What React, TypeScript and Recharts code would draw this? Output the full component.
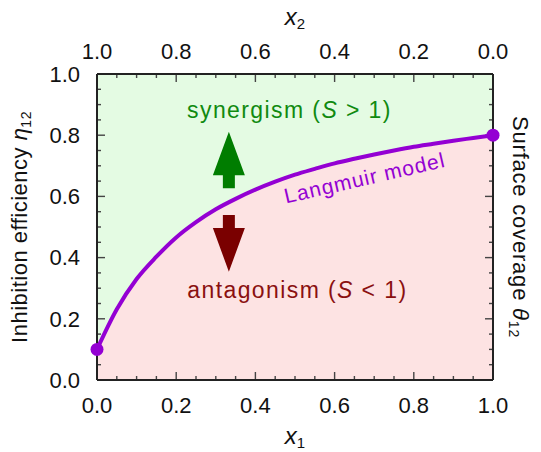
import { Area, ComposedChart, CartesianGrid, Label, Line, ReferenceDot, ReferenceLine, XAxis, YAxis } from "recharts";

// mole fraction of inhibitor 1 and the Langmuir-model efficiency
const x1Values = [0, 0.05, 0.1, 0.15, 0.2, 0.25, 0.3, 0.35, 0.4, 0.45, 0.5, 0.55, 0.6, 0.65, 0.7, 0.75, 0.8, 0.85, 0.9, 0.95, 1.0];
const etaValues = [0.1, 0.231, 0.33, 0.403, 0.466, 0.516, 0.558, 0.592, 0.622, 0.648, 0.671, 0.69, 0.708, 0.723, 0.737, 0.75, 0.762, 0.772, 0.782, 0.791, 0.8];

const tickValues = [0, 0.05, 0.1, 0.15, 0.2, 0.25, 0.3, 0.35, 0.4, 0.45, 0.5, 0.55, 0.6, 0.65, 0.7, 0.75, 0.8, 0.85, 0.9, 0.95, 1.0];
const majorTicks = [0, 0.2, 0.4, 0.6, 0.8, 1.0];

// annotation anchors (data coords)
const arrowX = 0.333;
const upArrow = [0.627, 0.811];
const downArrow = [0.539, 0.354];
const synergismPos = [0.486, 0.856];
const antagonismPos = [0.506, 0.268];
const modelLabelPos = [0.68, 0.637];
// two interior reference points used to find the frame for the tick marks
const frameRef = [0.25, 0.75];

const data = x1Values.map((x, i) => ({ x1: x, eta: etaValues[i] }));

const FONT = "'Liberation Sans', Arial, Helvetica, sans-serif";
const PURPLE = "#9400d3";
const AXIS = "#222";
const TICK = "#444";
const MAJOR = 8;
const MINOR = 4;
const TW = 1.4;
const isMajor = (v: number) => majorTicks.some((m) => Math.abs(m - v) < 1e-6);

const BottomTick = (p: any) => {
  const v = p.payload.value;
  if (!isMajor(v)) return <g />;
  return (
    <text x={p.x} y={p.y} dy="0.71em" textAnchor="middle" fontSize={22} fill="#111" fontFamily={FONT}>
      {v.toFixed(1)}
    </text>
  );
};

const TopTick = (p: any) => {
  const v = p.payload.value;
  if (!isMajor(v)) return <g />;
  return (
    <text x={p.x} y={p.y} textAnchor="middle" fontSize={22} fill="#111" fontFamily={FONT}>
      {v.toFixed(1)}
    </text>
  );
};

const LeftTick = (p: any) => {
  const v = p.payload.value;
  if (!isMajor(v)) return <g />;
  return (
    <text x={p.x} y={p.y} dy="0.355em" textAnchor="end" fontSize={22} fill="#111" fontFamily={FONT}>
      {v.toFixed(1)}
    </text>
  );
};

// inward frame ticks, drawn as thin filled rects above the fills.
// The segment joins two interior points; the frame edges follow from the linear scale.
const frameTicks = (p: any) => {
  const span = frameRef[1] - frameRef[0];
  const ux = (p.x2 - p.x1) / span;
  const uy = (p.y1 - p.y2) / span;
  const left = p.x1 - frameRef[0] * ux;
  const right = left + ux;
  const bottom = p.y1 + frameRef[0] * uy;
  const top = bottom - uy;
  const rects: any[] = [];
  tickValues.forEach((v, i) => {
    const len = isMajor(v) ? MAJOR : MINOR;
    const x = left + ux * v;
    const y = bottom - uy * v;
    rects.push(<rect key={`b${i}`} x={x - TW / 2} y={bottom - len} width={TW} height={len} fill={TICK} />);
    rects.push(<rect key={`t${i}`} x={x - TW / 2} y={top} width={TW} height={len} fill={TICK} />);
    rects.push(<rect key={`l${i}`} x={left} y={y - TW / 2} width={len} height={TW} fill={TICK} />);
    rects.push(<rect key={`r${i}`} x={right - len} y={y - TW / 2} width={len} height={TW} fill={TICK} />);
  });
  return <g>{rects}</g>;
};

const arrowShape = (color: string) => (p: any) => {
  const x = p.x1;
  const yb = p.y1;
  const yt = p.y2;
  const dir = Math.sign(yt - yb);
  const headLen = Math.abs(yt - yb) * 0.77;
  const yh = yt - dir * headLen;
  const pts = [
    [x - 6, yb],
    [x - 6, yh],
    [x - 16, yh],
    [x, yt],
    [x + 16, yh],
    [x + 6, yh],
    [x + 6, yb],
  ]
    .map((q) => q.join(","))
    .join(" ");
  return <polygon points={pts} fill={color} />;
};

const EndDot = (p: any) => {
  if (p.index !== 0 && p.index !== data.length - 1) return <g key={p.index} />;
  return <circle key={p.index} cx={p.cx} cy={p.cy} r={6.5} fill={PURPLE} />;
};

export default function App() {
  return (
    <div style={{ position: "absolute", left: 0, top: 0, width: 541, height: 452, background: "#fff" }}>
      <ComposedChart width={541} height={452} data={data} margin={{ top: 0, right: 0, bottom: 0, left: 0 }}>
        <CartesianGrid horizontal={false} vertical={false} fill="#e4fbe3" />
        <XAxis
          dataKey="x1"
          type="number"
          domain={[0, 1]}
          ticks={tickValues}
          interval={0}
          height={72}
          tickLine={false}
          tickSize={0}
          tickMargin={17}
          axisLine={{ stroke: AXIS, strokeWidth: 2 }}
          tick={BottomTick}
        >
          <Label
            content={(p: any) => {
              const vb = p.viewBox;
              return (
                <text x={vb.x + vb.width / 2} y={vb.y + 64} textAnchor="middle" fontSize={24} fill="#111" fontFamily={FONT}>
                  <tspan fontStyle="italic">x</tspan>
                  <tspan fontSize={15} dy={4}>1</tspan>
                </text>
              );
            }}
          />
        </XAxis>
        <XAxis
          xAxisId="top"
          dataKey="x1"
          orientation="top"
          type="number"
          domain={[0, 1]}
          reversed
          ticks={tickValues}
          interval={0}
          height={74}
          tickLine={false}
          tickSize={0}
          tickMargin={15}
          axisLine={{ stroke: AXIS, strokeWidth: 2 }}
          tick={TopTick}
        >
          <Label
            content={(p: any) => {
              const vb = p.viewBox;
              return (
                <text x={vb.x + vb.width / 2} y={vb.y + 25} textAnchor="middle" fontSize={24} fill="#111" fontFamily={FONT}>
                  <tspan fontStyle="italic">x</tspan>
                  <tspan fontSize={15} dy={4}>2</tspan>
                </text>
              );
            }}
          />
        </XAxis>
        <YAxis
          type="number"
          domain={[0, 1]}
          ticks={tickValues}
          interval={0}
          width={97}
          tickLine={false}
          tickSize={0}
          tickMargin={17}
          axisLine={{ stroke: AXIS, strokeWidth: 2 }}
          tick={LeftTick}
        >
          <Label
            content={(p: any) => {
              const vb = p.viewBox;
              const cx = vb.x + 27;
              const cy = vb.y + vb.height / 2;
              return (
                <text
                  x={cx}
                  y={cy}
                  transform={`rotate(-90, ${cx}, ${cy})`}
                  textAnchor="middle"
                  fontSize={22}
                  letterSpacing={0.5}
                  fill="#111"
                  fontFamily={FONT}
                >
                  Inhibition efficiency <tspan fontStyle="italic">η</tspan>
                  <tspan fontSize={14} dy={4}>12</tspan>
                </text>
              );
            }}
          />
        </YAxis>
        <YAxis
          yAxisId="right"
          orientation="right"
          type="number"
          domain={[0, 1]}
          ticks={tickValues}
          interval={0}
          width={48}
          tickLine={false}
          tick={false}
          axisLine={{ stroke: AXIS, strokeWidth: 2 }}
        >
          <Label
            content={(p: any) => {
              const vb = p.viewBox;
              const cx = vb.x + 20;
              const cy = vb.y + vb.height / 2;
              return (
                <text
                  x={cx}
                  y={cy}
                  transform={`rotate(90, ${cx}, ${cy})`}
                  textAnchor="middle"
                  fontSize={22}
                  letterSpacing={0.8}
                  fill="#111"
                  fontFamily={FONT}
                >
                  Surface coverage <tspan fontStyle="italic">θ</tspan>
                  <tspan fontSize={14} dy={4}>12</tspan>
                </text>
              );
            }}
          />
        </YAxis>
        <Area
          type="monotone"
          dataKey="eta"
          stroke="none"
          fill="#fde3e3"
          fillOpacity={1}
          isAnimationActive={false}
          dot={false}
          activeDot={false}
        />
        {/* invisible series so the top / right axes get a domain */}
        <Line
          xAxisId="top"
          yAxisId="right"
          dataKey="eta"
          stroke="none"
          dot={false}
          activeDot={false}
          isAnimationActive={false}
        />
        <ReferenceLine
          segment={[{ x: frameRef[0], y: frameRef[0] }, { x: frameRef[1], y: frameRef[1] }]}
          shape={frameTicks}
        />
        <ReferenceLine
          segment={[{ x: arrowX, y: upArrow[0] }, { x: arrowX, y: upArrow[1] }]}
          shape={arrowShape("#007d00")}
        />
        <ReferenceLine
          segment={[{ x: arrowX, y: downArrow[0] }, { x: arrowX, y: downArrow[1] }]}
          shape={arrowShape("#7a0000")}
        />
        <ReferenceDot
          x={synergismPos[0]}
          y={synergismPos[1]}
          r={0}
          shape={(p: any) => (
            <text x={p.cx} y={p.cy} textAnchor="middle" fontSize={23} letterSpacing={1.4} fill="#108a10" fontFamily={FONT}>
              synergism (<tspan fontStyle="italic">S</tspan> &gt; 1)
            </text>
          )}
        />
        <ReferenceDot
          x={antagonismPos[0]}
          y={antagonismPos[1]}
          r={0}
          shape={(p: any) => (
            <text x={p.cx} y={p.cy} textAnchor="middle" fontSize={23} letterSpacing={1.4} fill="#8a1010" fontFamily={FONT}>
              antagonism (<tspan fontStyle="italic">S</tspan> &lt; 1)
            </text>
          )}
        />
        <Line
          type="monotone"
          dataKey="eta"
          stroke={PURPLE}
          strokeWidth={4}
          dot={EndDot}
          activeDot={false}
          isAnimationActive={false}
        />
        <ReferenceDot
          x={modelLabelPos[0]}
          y={modelLabelPos[1]}
          r={0}
          shape={(p: any) => (
            <text
              x={p.cx}
              y={p.cy}
              transform={`rotate(-13, ${p.cx}, ${p.cy})`}
              textAnchor="middle"
              fontSize={21}
              letterSpacing={1}
              fill={PURPLE}
              fontFamily={FONT}
            >
              Langmuir model
            </text>
          )}
        />
      </ComposedChart>
    </div>
  );
}
